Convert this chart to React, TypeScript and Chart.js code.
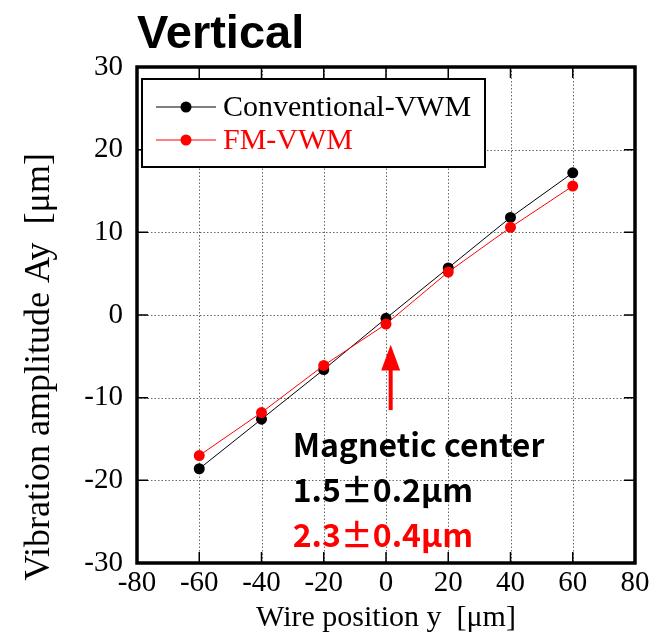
import React, { useEffect, useRef } from "react";
import { Chart, registerables } from "chart.js";

Chart.register(...registerables);

const xPositions = [-60, -40, -20, 0, 20, 40, 60];
const conventionalVWM = [-18.6, -12.6, -6.6, -0.4, 5.7, 11.8, 17.2];
const fmVWM = [-17.0, -11.8, -6.1, -1.1, 5.2, 10.6, 15.6];
const xTickValues = [-80, -60, -40, -20, 0, 20, 40, 60, 80];
const yTickValues = [-30, -20, -10, 0, 10, 20, 30];
const seriesNames = ["Conventional-VWM", "FM-VWM"];
const seriesColors = ["#000000", "#ff0000"];
const chartTitle = "Vertical";
const xTitle = "Wire position y  [\u03bcm]";
const yTitle = "Vibration amplitude Ay  [\u03bcm]";
const annotationLines = ["Magnetic center", "1.5\u00b10.2\u03bcm", "2.3\u00b10.4\u03bcm"];
const annotationColors = ["#000000", "#000000", "#ff0000"];
const annotationAnchor = { x: -30, y: [-15.7, -21.1, -26.6] };
const arrowData = { x: 1.5, tip: -3.6, headBase: -6.7, tail: -11.5 };

const serif = "'Liberation Serif', 'Times New Roman', serif";

const gridPlugin = {
  id: "dottedGrid",
  beforeDatasetsDraw(chart: any) {
    const ctx = chart.ctx;
    const a = chart.chartArea;
    const xs = chart.scales.x;
    const ys = chart.scales.y;
    ctx.save();
    ctx.strokeStyle = "#666";
    ctx.lineWidth = 1;
    ctx.setLineDash([1.5, 2]);
    ctx.beginPath();
    xTickValues.forEach((v) => {
      const px = Math.round(xs.getPixelForValue(v)) + 0.5;
      ctx.moveTo(px, a.top);
      ctx.lineTo(px, a.bottom);
    });
    yTickValues.forEach((v) => {
      const py = Math.round(ys.getPixelForValue(v)) + 0.5;
      ctx.moveTo(a.left, py);
      ctx.lineTo(a.right, py);
    });
    ctx.stroke();
    ctx.restore();
  },
};

const overlayPlugin = {
  id: "overlay",
  afterDatasetsDraw(chart: any) {
    const ctx = chart.ctx;
    const a = chart.chartArea;
    const xs = chart.scales.x;
    const ys = chart.scales.y;
    ctx.save();

    // inward ticks
    ctx.strokeStyle = "#000";
    ctx.lineWidth = 1.5;
    const tl = 11;
    ctx.beginPath();
    xTickValues.forEach((v) => {
      const px = xs.getPixelForValue(v);
      ctx.moveTo(px, a.top);
      ctx.lineTo(px, a.top + tl);
      ctx.moveTo(px, a.bottom);
      ctx.lineTo(px, a.bottom - tl);
    });
    yTickValues.forEach((v) => {
      const py = ys.getPixelForValue(v);
      ctx.moveTo(a.left, py);
      ctx.lineTo(a.left + tl, py);
      ctx.moveTo(a.right, py);
      ctx.lineTo(a.right - tl, py);
    });
    ctx.stroke();

    // frame
    ctx.lineWidth = 3.5;
    ctx.strokeRect(a.left, a.top, a.right - a.left, a.bottom - a.top);

    // legend
    const lx = a.left + 5;
    const ly = a.top + 12;
    const lw = 343;
    const lh = 88;
    ctx.fillStyle = "#fff";
    ctx.fillRect(lx, ly, lw, lh);
    ctx.lineWidth = 2;
    ctx.strokeStyle = "#000";
    ctx.strokeRect(lx, ly, lw, lh);
    const rows = [ly + 28, ly + 61];
    ctx.font = `30px ${serif}`;
    ctx.textBaseline = "middle";
    ctx.textAlign = "left";
    seriesNames.forEach((name, i) => {
      const cy = rows[i];
      ctx.strokeStyle = seriesColors[i];
      ctx.lineWidth = 1;
      ctx.beginPath();
      ctx.moveTo(lx + 14, cy);
      ctx.lineTo(lx + 74, cy);
      ctx.stroke();
      ctx.fillStyle = seriesColors[i];
      ctx.beginPath();
      ctx.arc(lx + 44, cy, 5.5, 0, Math.PI * 2);
      ctx.fill();
      ctx.fillText(name, lx + 81, cy + 1);
    });

    // arrow
    const ax = xs.getPixelForValue(arrowData.x);
    const tipY = ys.getPixelForValue(arrowData.tip);
    const baseY = ys.getPixelForValue(arrowData.headBase);
    const tailY = ys.getPixelForValue(arrowData.tail);
    ctx.fillStyle = "#ff0000";
    ctx.fillRect(ax - 2, baseY - 1, 4, tailY - baseY + 1);
    ctx.beginPath();
    ctx.moveTo(ax, tipY);
    ctx.lineTo(ax - 9.5, baseY);
    ctx.lineTo(ax + 9.5, baseY);
    ctx.closePath();
    ctx.fill();

    // annotation text
    ctx.font = `bold 32px 'Noto Sans CJK JP', 'Liberation Sans', sans-serif`;
    ctx.textBaseline = "middle";
    const tx = xs.getPixelForValue(annotationAnchor.x);
    annotationLines.forEach((t, i) => {
      ctx.fillStyle = annotationColors[i];
      ctx.fillText(t, tx, ys.getPixelForValue(annotationAnchor.y[i]));
    });

    // title
    ctx.font = `bold 47px 'Liberation Sans', Arial, sans-serif`;
    ctx.fillStyle = "#000";
    ctx.textBaseline = "alphabetic";
    ctx.fillText(chartTitle, a.left, 48);

    // y axis title
    ctx.save();
    ctx.translate(40, 367);
    ctx.rotate(-Math.PI / 2);
    ctx.font = `36px ${serif}`;
    ctx.textAlign = "center";
    ctx.textBaseline = "middle";
    ctx.fillStyle = "#000";
    ctx.fillText(yTitle, 0, 0);
    ctx.restore();

    ctx.restore();
  },
};

export default function App() {
  const canvasRef = useRef<HTMLCanvasElement | null>(null);

  useEffect(() => {
    const canvas = canvasRef.current;
    if (!canvas) return;
    const chart = new Chart(canvas, {
      type: "line",
      data: {
        datasets: [
          {
            label: seriesNames[0],
            data: xPositions.map((x, i) => ({ x, y: conventionalVWM[i] })),
            borderColor: seriesColors[0],
            backgroundColor: seriesColors[0],
            borderWidth: 1,
            pointRadius: 5.5,
            pointBorderWidth: 0,
            pointHoverRadius: 5.5,
            order: 2,
          },
          {
            label: seriesNames[1],
            data: xPositions.map((x, i) => ({ x, y: fmVWM[i] })),
            borderColor: seriesColors[1],
            backgroundColor: seriesColors[1],
            borderWidth: 1,
            pointRadius: 5.5,
            pointBorderWidth: 0,
            pointHoverRadius: 5.5,
            order: 1,
          },
        ],
      },
      options: {
        animation: false,
        responsive: true,
        maintainAspectRatio: false,
        layout: { padding: { top: 67, right: 26, left: 0, bottom: 0 } },
        plugins: {
          legend: { display: false },
          tooltip: { enabled: false },
          title: { display: false },
        },
        scales: {
          x: {
            type: "linear",
            min: -80,
            max: 80,
            afterFit: (s: any) => {
              s.height = 76;
            },
            afterBuildTicks: (s: any) => {
              s.ticks = xTickValues.map((v) => ({ value: v }));
            },
            ticks: {
              color: "#000",
              font: { family: serif, size: 29 },
              padding: 3,
              maxRotation: 0,
            },
            grid: { display: false, drawTicks: false },
            border: { display: false },
            title: {
              display: true,
              text: xTitle,
              color: "#000",
              font: { family: serif, size: 30 },
              padding: { top: 0, bottom: 3 },
            },
          },
          y: {
            type: "linear",
            min: -30,
            max: 30,
            afterFit: (s: any) => {
              s.width = 137;
            },
            afterBuildTicks: (s: any) => {
              s.ticks = yTickValues.map((v) => ({ value: v }));
            },
            ticks: {
              color: "#000",
              font: { family: serif, size: 29 },
              padding: 14,
            },
            grid: { display: false, drawTicks: false },
            border: { display: false },
            title: { display: false },
          },
        },
      },
      plugins: [gridPlugin, overlayPlugin],
    } as any);
    return () => chart.destroy();
  }, []);

  return (
    <div style={{ position: "absolute", left: 0, top: 0, width: 661, height: 639, background: "#fff" }}>
      <canvas ref={canvasRef} />
    </div>
  );
}
